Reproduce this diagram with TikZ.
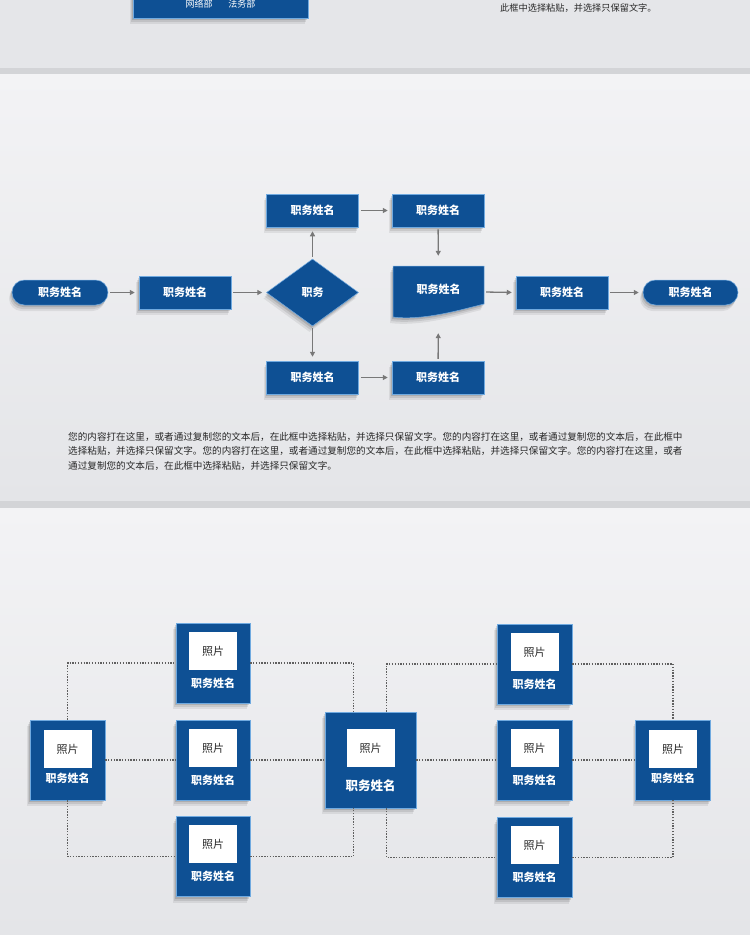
\documentclass[tikz,border=0pt]{standalone}
\usepackage{fontspec}
\setmainfont{Noto Sans CJK SC}
\usetikzlibrary{shapes.geometric,arrows.meta,positioning,calc,shadows}
\definecolor{jobblue}{RGB}{14,80,148}
\definecolor{edgeblue}{RGB}{112,170,224}
\definecolor{arrowgray}{RGB}{120,120,120}
\definecolor{dotgray}{RGB}{95,95,95}
\definecolor{txtgray}{RGB}{40,40,40}
\definecolor{bgstrip}{RGB}{229,230,233}
\definecolor{bgband}{RGB}{211,212,215}
\definecolor{bglight}{RGB}{243,243,245}
\definecolor{bgdark}{RGB}{228,229,232}

\begin{document}
\begin{tikzpicture}[x=1pt, y=-1pt,
    lbl/.style={text=white, font=\bfseries\fontsize{11}{11}\selectfont, inner sep=0pt},
    sh/.style={drop shadow={shadow xshift=-3pt, shadow yshift=-6pt, opacity=.07, fill=black},
               drop shadow={shadow xshift=-2pt, shadow yshift=-4pt, opacity=.09, fill=black},
               drop shadow={shadow xshift=-1pt, shadow yshift=-2pt, opacity=.12, fill=black}},
    job/.style={lbl, sh, rectangle, fill=jobblue, draw=edgeblue, line width=.5pt,
                minimum width=92pt, minimum height=33pt},
    term/.style={job, rounded corners=12.5pt, minimum width=96pt, minimum height=25pt},
    dec/.style={job, diamond, minimum width=92pt, minimum height=67pt},
    flow/.style={draw=arrowgray, line width=1.3pt, -{Triangle[length=5pt,width=5pt]},
                 shorten <=2pt, shorten >=4pt},
    card/.style={sh, rectangle, fill=jobblue, draw=edgeblue, line width=.5pt,
                 minimum width=75pt, minimum height=80pt, inner sep=0pt},
    photo/.style={rectangle, fill=white, minimum width=48pt, minimum height=38pt, inner sep=0pt,
                  text=txtgray, font=\fontsize{11}{11}\selectfont},
    link/.style={draw=dotgray, line width=1.4pt, dash pattern=on 1.3pt off 1.5pt}
]
    % page and panels
    \useasboundingbox (0,0) rectangle (750,935);
    \clip (0,0) rectangle (750,935);
    \fill[bgstrip] (0,0) rectangle (750,68);
    \fill[bgband] (0,68) rectangle (750,74);
    \shade[top color=bglight, bottom color=bgdark] (0,74) rectangle (750,501);
    \fill[bgband] (0,501) rectangle (750,508);
    \shade[top color=bglight, bottom color=bgdark] (0,508) rectangle (750,935);

    % end of the panel above
    \node[job, minimum width=175pt, minimum height=28pt] (dept) at (220.5,4)
        {\mdseries\fontsize{9}{9}\selectfont 网络部\hspace{16pt}法务部};
    \node[anchor=west, inner sep=0pt, text=txtgray, font=\fontsize{9.2}{9.2}\selectfont] (tail) at (500,8)
        {此框中选择粘贴，并选择只保留文字。};

    % flow chart
    \node[term] (start) at (60,292.5) {职务姓名};
    \node[job] (first) at (185,292.5) {职务姓名};
    \node[dec] (check) at (312.5,292.5) {职务};
    \node[job] (upper) at (312.5,210.5) {职务姓名};
    \node[job] (lower) at (312.5,377.5) {职务姓名};
    \node[job] (upperr) at (438,210.5) {职务姓名};
    \node[job] (lowerr) at (438,377.5) {职务姓名};
    \coordinate (docc) at (438.5,292);
    \path[sh, fill=jobblue, draw=edgeblue, line width=.5pt]
        ($(docc)+(-45.5,-26)$) -- ($(docc)+(45.5,-26)$) -- ($(docc)+(45.5,12)$)
        .. controls ($(docc)+(25,17)$) and ($(docc)+(-15,29)$) .. ($(docc)+(-45.5,25)$) -- cycle;
    \node[lbl, minimum width=91pt, minimum height=52pt] (doc) at (docc) {\raisebox{6pt}{职务姓名}};
    \node[job] (second) at (562,292.5) {职务姓名};
    \node[term, minimum width=95pt] (stop) at (690.5,292.5) {职务姓名};

    \draw[flow] (start) -- (first);
    \draw[flow] (first) -- (check);
    \draw[flow] (check) -- (upper);
    \draw[flow] (check) -- (lower);
    \draw[flow] (upper) -- (upperr);
    \draw[flow] (lower) -- (lowerr);
    \draw[flow, shorten >=10pt] (upperr) -- (doc);
    \draw[flow, shorten >=15pt] (lowerr) -- (doc);
    \draw[flow] (doc.east) -- (second.west);
    \draw[flow] (second) -- (stop);

    \node[anchor=north west, inner sep=0pt, align=left, text=txtgray,
          font=\fontsize{9.6}{14.5}\selectfont] (note) at (68,432)
        {您的内容打在这里，或者通过复制您的文本后，在此框中选择粘贴，并选择只保留文字。您的内容打在这里，或者通过复制您的文本后，在此框中\\
         选择粘贴，并选择只保留文字。您的内容打在这里，或者通过复制您的文本后，在此框中选择粘贴，并选择只保留文字。您的内容打在这里，或者\\
         通过复制您的文本后，在此框中选择粘贴，并选择只保留文字。};

    % photo cards
    \node[card] (lb) at (67.5,760) {};
    \node[card, minimum width=74pt] (a1) at (213,663) {};
    \node[card, minimum width=74pt] (a2) at (213,760) {};
    \node[card, minimum width=74pt] (a3) at (213,856.5) {};
    \node[card, minimum width=91pt, minimum height=96pt] (cb) at (370.5,760) {};
    \node[card] (b1) at (534.5,664) {};
    \node[card] (b2) at (534.5,760) {};
    \node[card] (b3) at (534.5,857.5) {};
    \node[card] (rb) at (673,760) {};

    % dotted links
    \draw[link] (lb.north) |- (a1.west);
    \draw[link] (a1.east) -| ([xshift=-17pt]cb.north);
    \draw[link] (lb.east) -- (a2.west);
    \draw[link] (a2.east) -- (cb.west);
    \draw[link] (lb.south) |- (a3.west);
    \draw[link] (a3.east) -| ([xshift=-17pt]cb.south);
    \draw[link] ([xshift=16pt]cb.north) |- (b1.west);
    \draw[link] (b1.east) -| (rb.north);
    \draw[link] (cb.east) -- (b2.west);
    \draw[link] (b2.east) -- (rb.west);
    \draw[link] ([xshift=16pt]cb.south) |- (b3.west);
    \draw[link] (b3.east) -| (rb.south);

    \node[photo, below=10pt of lb.north] (lbp) {照片};
    \node[lbl] (lbn) at ([yshift=22pt]lb.south) {职务姓名};
    \node[photo, below=9pt of a1.north] (a1p) {照片};
    \node[lbl] (a1n) at ([yshift=20pt]a1.south) {职务姓名};
    \node[photo, below=9pt of a2.north] (a2p) {照片};
    \node[lbl] (a2n) at ([yshift=20pt]a2.south) {职务姓名};
    \node[photo, below=9pt of a3.north] (a3p) {照片};
    \node[lbl] (a3n) at ([yshift=20pt]a3.south) {职务姓名};
    \node[photo, below=17pt of cb.north] (cbp) {照片};
    \node[lbl, font=\bfseries\fontsize{12.5}{12.5}\selectfont] (cbn) at ([yshift=23pt]cb.south) {职务姓名};
    \node[photo, below=9pt of b1.north] (b1p) {照片};
    \node[lbl] (b1n) at ([yshift=20pt]b1.south) {职务姓名};
    \node[photo, below=9pt of b2.north] (b2p) {照片};
    \node[lbl] (b2n) at ([yshift=20pt]b2.south) {职务姓名};
    \node[photo, below=9pt of b3.north] (b3p) {照片};
    \node[lbl] (b3n) at ([yshift=20pt]b3.south) {职务姓名};
    \node[photo, below=10pt of rb.north] (rbp) {照片};
    \node[lbl] (rbn) at ([yshift=22pt]rb.south) {职务姓名};
\end{tikzpicture}
\end{document}
